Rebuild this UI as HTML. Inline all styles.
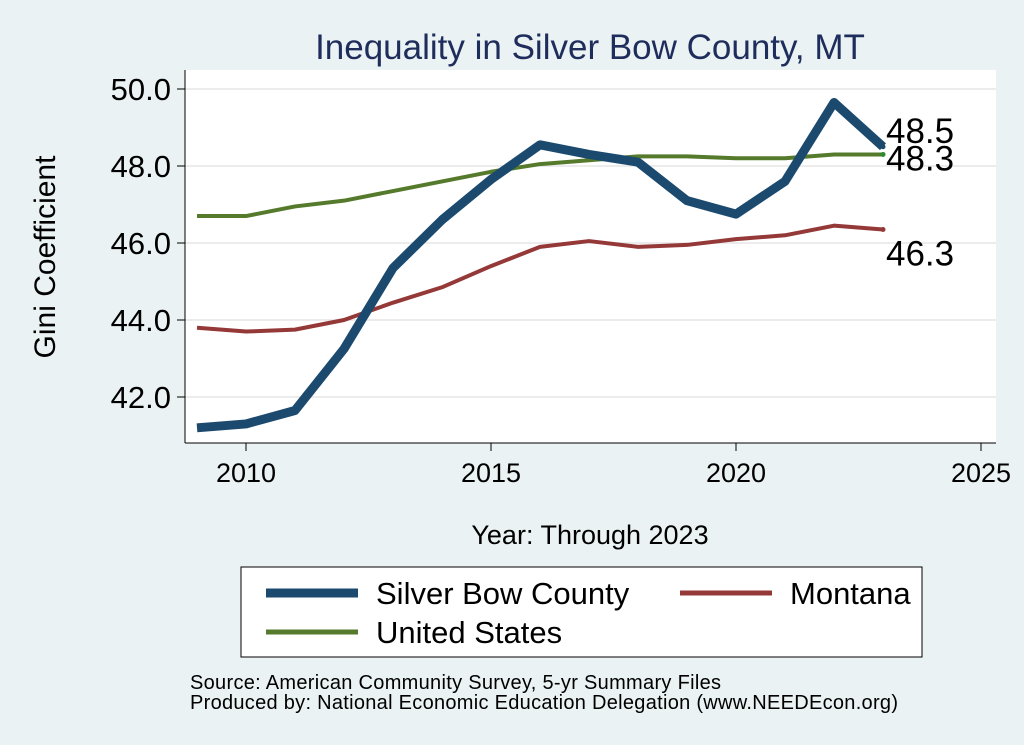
<!DOCTYPE html>
<html><head><meta charset="utf-8"><style>
body{margin:0;background:#eaf2f3;}
svg{display:block;font-family:"Liberation Sans",Arial,sans-serif;}
</style></head><body>
<svg id="chart" width="1024" height="745">
<rect x="0" y="0" width="1024" height="745" fill="#eaf2f3"/>
<rect x="185" y="70" width="811" height="373" fill="#ffffff"/>
<text x="590" y="59" text-anchor="middle" font-size="35" fill="#1f2d5c">Inequality in Silver Bow County, MT</text>
<g id="grid"></g>
<g id="axes"></g>
<g id="series"></g>
<text transform="translate(55,257) rotate(-90)" text-anchor="middle" font-size="30" fill="#000">Gini Coefficient</text>
<text x="590" y="544" text-anchor="middle" font-size="27" fill="#000">Year: Through 2023</text>
<g>
<rect x="241" y="567" width="681" height="90" fill="#fff" stroke="#000" stroke-width="1"/>
<line x1="266" y1="593" x2="358" y2="593" stroke="#1c4a6e" stroke-width="9"/>
<text x="376" y="604" font-size="31">Silver Bow County</text>
<line x1="680" y1="593" x2="772" y2="593" stroke="#943838" stroke-width="5"/>
<text x="790" y="604" font-size="31">Montana</text>
<line x1="266" y1="632" x2="358" y2="632" stroke="#557a2c" stroke-width="5"/>
<text x="376" y="643" font-size="31">United States</text>
</g>
<text x="190" y="689" font-size="20" textLength="531">Source: American Community Survey, 5-yr Summary Files</text>
<text x="190" y="709" font-size="20" textLength="708">Produced by: National Economic Education Delegation (www.NEEDEcon.org)</text>
</svg>
<script>
const years=[2009,2010,2011,2012,2013,2014,2015,2016,2017,2018,2019,2020,2021,2022,2023];
const silverBow=[41.2,41.3,41.65,43.25,45.35,46.6,47.65,48.55,48.3,48.1,47.1,46.75,47.6,49.65,48.5];
const montana=[43.8,43.7,43.75,44.0,44.45,44.85,45.4,45.9,46.05,45.9,45.95,46.1,46.2,46.45,46.35];
const unitedStates=[46.7,46.7,46.95,47.1,47.35,47.6,47.85,48.05,48.15,48.25,48.25,48.2,48.2,48.3,48.3];
const xTicks=[2010,2015,2020,2025];
const yTicks=[42,44,46,48,50];
const ns="http://www.w3.org/2000/svg";
const xs=v=>246+(v-2010)*49;
const ys=v=>89+(50-v)*38.5;
function mk(t,a,p){const e=document.createElementNS(ns,t);for(const k in a)e.setAttribute(k,a[k]);p.appendChild(e);return e;}
const grid=document.getElementById('grid'),axes=document.getElementById('axes'),ser=document.getElementById('series');
yTicks.forEach(v=>{
 const g=mk('line',{x1:185,x2:996,y1:ys(v),y2:ys(v),stroke:'#e6e6e6','stroke-width':1.5},grid);
 
 
 const t=mk('line',{x1:177,x2:185,y1:ys(v),y2:ys(v),stroke:'#000'},axes);
 
 
 const l=mk('text',{x:171,y:ys(v)+11,'text-anchor':'end','font-size':31},axes);
 l.textContent=v.toFixed(1);
 
 
});
xTicks.forEach(v=>{
 const t=mk('line',{x1:xs(v),x2:xs(v),y1:443,y2:451,stroke:'#000'},axes);
 
 
 const l=mk('text',{x:xs(v),y:482,'text-anchor':'middle','font-size':27},axes);
 l.textContent=v;
 
 
});
const ya=mk('line',{x1:185,x2:185,y1:70,y2:443,stroke:'#000'},axes);


const xa=mk('line',{x1:185,x2:996,y1:443,y2:443,stroke:'#000'},axes);


function line(vals,col,w,name){
 const p=mk('polyline',{points:vals.map((v,i)=>xs(years[i])+','+ys(v)).join(' '),fill:'none',stroke:col,'stroke-width':w,'stroke-linejoin':'round'},ser);
 
 
}
line(montana,'#943838',4,'line-montana');
line(unitedStates,'#557a2c',4,'line-united-states');
line(silverBow,'#1c4a6e',9,'line-silver-bow');
const n=years.length-1;
[[silverBow,'#1c4a6e',-4],[unitedStates,'#2d8a2d',16],[montana,'#943838',36]].forEach(([s,c,dy],i)=>{
 const d=mk('circle',{cx:xs(years[n]),cy:ys(s[n]),r:2.5,fill:c},ser);
 
 
 const t=mk('text',{x:xs(years[n])+3,y:ys(s[n])+dy,'font-size':35},ser);
 t.textContent=(Math.floor(s[n]*10+1e-6)/10).toFixed(1);
 
 
});
</script>
</body></html>
